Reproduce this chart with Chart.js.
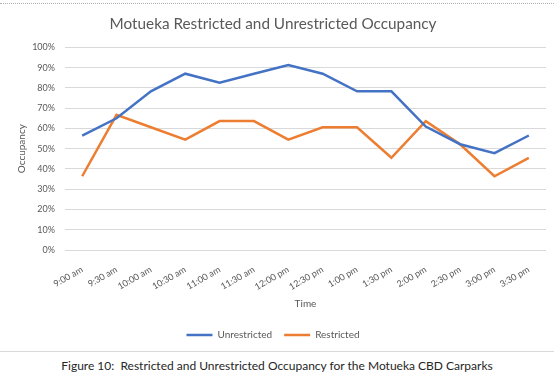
<!DOCTYPE html>
<html>
<head>
<meta charset="utf-8">
<script src="https://cdn.jsdelivr.net/npm/chart.js@4"></script>
<style>
  body { margin: 0; background: #fff; width: 554px; height: 388px; overflow: hidden; position: relative; font-family: Lato, sans-serif; }
  .topline { position: absolute; left: 0; top: 3px; width: 554px; border-top: 1px dotted #b0b0b0; }
  .wrap { position: absolute; left: 0; top: 0; width: 554px; height: 350px; }
  .sep { position: absolute; left: 0; top: 351px; width: 554px; border-top: 1px solid #d9d9d9; }
  .caption { position: absolute; left: 0; top: 358px; width: 554px; text-align: center; font-size: 12px; color: #262626; }
</style>
</head>
<body>
<div class="topline"></div>
<div class="wrap"><canvas id="occChart"></canvas></div>
<div class="sep"></div>
<div class="caption">Figure 10:&nbsp; Restricted and Unrestricted Occupancy for the Motueka CBD Carparks</div>
<script>
// Chart values
var times = ['9:00 am', '9:30 am', '10:00 am', '10:30 am', '11:00 am', '11:30 am', '12:00 pm',
             '12:30 pm', '1:00 pm', '1:30 pm', '2:00 pm', '2:30 pm', '3:00 pm', '3:30 pm'];
var unrestricted = [56.5, 65, 78.3, 87, 82.6, 87, 91.3, 87, 78.3, 78.3, 60.9, 52.2, 47.8, 56.5];
var restricted = [36.4, 66.7, 60.6, 54.5, 63.6, 63.6, 54.5, 60.6, 60.6, 45.5, 63.6, 52.2, 36.4, 45.5];
var yTicks = [0, 10, 20, 30, 40, 50, 60, 70, 80, 90, 100];

var grey = '#595959';

var ctx = document.getElementById('occChart').getContext('2d');
var occChart = new Chart(ctx, {
  type: 'line',
  data: {
    labels: times,
    datasets: [{
      label: 'Unrestricted',
      data: unrestricted,
      borderColor: '#4472C4',
      backgroundColor: '#4472C4',
      borderWidth: 2.5,
      pointRadius: 0,
      tension: 0
    }, {
      label: 'Restricted',
      data: restricted,
      borderColor: '#ED7D31',
      backgroundColor: '#ED7D31',
      borderWidth: 2.5,
      pointRadius: 0,
      tension: 0
    }]
  },
  options: {
    responsive: true,
    maintainAspectRatio: false,
    animation: false,
    layout: { padding: { left: 0, right: 8, top: 0, bottom: 0 } },
    plugins: {
      title: {
        display: true,
        text: 'Motueka Restricted and Unrestricted Occupancy',
        color: grey,
        font: { family: 'Lato', size: 15.3, weight: 'normal' },
        padding: { top: 15, bottom: 14 }
      },
      legend: {
        position: 'bottom',
        labels: {
          usePointStyle: true,
          pointStyle: 'line',
          pointStyleWidth: 26,
          color: grey,
          font: { family: 'Lato', size: 10 },
          padding: 12
        }
      },
      tooltip: { enabled: false }
    },
    scales: {
      x: {
        offset: true,
        grid: { display: false },
        border: { display: false },
        ticks: {
          autoSkip: false,
          minRotation: 30,
          maxRotation: 30,
          color: grey,
          padding: 6,
          font: { family: 'Lato', size: 9 }
        },
        title: {
          display: true,
          text: 'Time',
          color: grey,
          font: { family: 'Lato', size: 10 },
          padding: { top: 0, bottom: 8 }
        },
        afterFit: function (scale) { scale.height = 68; }
      },
      y: {
        min: 0,
        max: 100,
        afterBuildTicks: function (scale) {
          scale.ticks = yTicks.map(function (v) { return { value: v }; });
        },
        grid: { color: '#d9d9d9', lineWidth: 1, drawTicks: false },
        border: { display: false },
        ticks: {
          color: grey,
          padding: 10,
          font: { family: 'Lato', size: 9 },
          callback: function (v) { return v + '%'; }
        },
        title: {
          display: true,
          text: 'Occupancy',
          color: grey,
          font: { family: 'Lato', size: 10 },
          padding: { top: 16, bottom: 0 }
        },
        afterFit: function (scale) { scale.width = 65; }
      }
    }
  }
});
</script>
</body>
</html>
